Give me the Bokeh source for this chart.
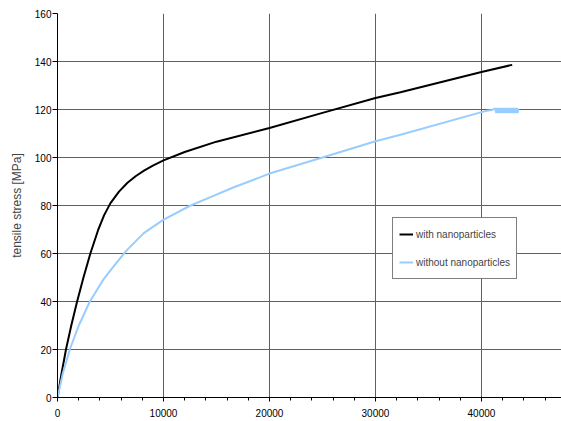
from bokeh.plotting import figure
from bokeh.models import Range1d, SingleIntervalTicker, Legend, LegendItem
from bokeh.embed import file_html
from bokeh.resources import INLINE

# ---- data ----
with_x = [0, 380, 800, 1300, 1850, 2450, 3100, 3850, 4400, 5000, 5800, 6600,
          7400, 8200, 9000, 10000, 12000, 15000, 20000, 25000, 30000, 32360,
          40000, 42900]
with_y = [0, 10, 20, 30, 40, 50, 60, 70, 76, 81, 85.8, 89.5,
          92.3, 94.6, 96.6, 98.8, 102.3, 106.6, 112.3, 118.6, 124.8, 127.2,
          135.6, 138.6]

without_x = [0, 500, 1160, 2010, 3050, 4300, 5630, 6570, 8140, 9970, 12550,
             14430, 16640, 19150, 20000, 25000, 30000, 32360, 40000, 40500,
             41000, 41300, 41400, 41500, 41600, 41700, 41800, 41900, 42000,
             42100, 42200, 42300, 42400, 42500, 42600, 42700, 42800, 42900,
             43000, 43100, 43200, 43300, 43400, 43500]
without_y = [0, 10, 20, 30, 40, 49, 56.5, 61.5, 68.5, 74, 80,
             83.5, 87.6, 91.8, 93.3, 100, 106.8, 109.5, 118.9, 119.5,
             119.8, 120.5, 118.5, 120.6, 118.5, 120.6, 118.5, 120.6, 118.5,
             120.6, 118.5, 120.6, 118.5, 120.6, 118.5, 120.6, 118.5, 120.6,
             118.5, 120.6, 118.5, 120.6, 118.5, 120.4]

series_names = ["with nanoparticles", "without nanoparticles"]
y_label = "tensile stress [MPa]"

FONT = "Liberation Sans"

p = figure(width=561, height=421, output_backend="svg", toolbar_location=None,
           x_range=Range1d(0, 47550), y_range=Range1d(0, 160),
           min_border_left=57, min_border_top=13, min_border_right=0,
           min_border_bottom=24)
p.outline_line_color = None
p.background_fill_color = "white"

l1 = p.line(with_x, with_y, line_color="black", line_width=2)
l2 = p.line(without_x, without_y, line_color="#99CCFF", line_width=2)

# axes
p.xaxis.ticker = SingleIntervalTicker(interval=10000, num_minor_ticks=5)
p.yaxis.ticker = SingleIntervalTicker(interval=20, num_minor_ticks=0)
for ax in (p.xaxis, p.yaxis):
    ax.axis_line_color = "black"
    ax.axis_line_width = 1
    ax.major_tick_line_color = "black"
    ax.major_tick_in = 0
    ax.major_label_text_font = FONT
    ax.major_label_text_font_size = "10px"
    ax.major_label_text_color = "black"
p.xaxis.major_tick_out = 4
p.xaxis.minor_tick_out = 3
p.xaxis.minor_tick_in = 0
p.xaxis.minor_tick_line_color = "black"
p.xaxis.major_label_standoff = 7
p.yaxis.major_tick_out = 5
p.yaxis.minor_tick_line_color = None
p.yaxis.major_label_standoff = 1
p.yaxis.axis_label = y_label
p.yaxis.axis_label_text_font = FONT
p.yaxis.axis_label_text_font_size = "12px"
p.yaxis.axis_label_text_font_style = "normal"
p.yaxis.axis_label_standoff = 8

# grid
p.xgrid.grid_line_color = "#606060"
p.ygrid.grid_line_color = "#606060"
p.xgrid.grid_line_width = 1
p.ygrid.grid_line_width = 1

legend = Legend(items=[LegendItem(label=series_names[0], renderers=[l1]),
                       LegendItem(label=series_names[1], renderers=[l2])],
                location=(335, 118))
legend.border_line_color = "black"
legend.border_line_width = 1
legend.background_fill_color = "white"
legend.background_fill_alpha = 1
legend.label_text_font = FONT
legend.label_text_font_size = "10px"
legend.glyph_width = 14
legend.glyph_height = 20
legend.label_height = 20
legend.label_standoff = 3
legend.padding = 6
legend.spacing = 8
legend.margin = 0
p.add_layout(legend, "center")

open("out.html", "w").write(file_html(p, INLINE))
